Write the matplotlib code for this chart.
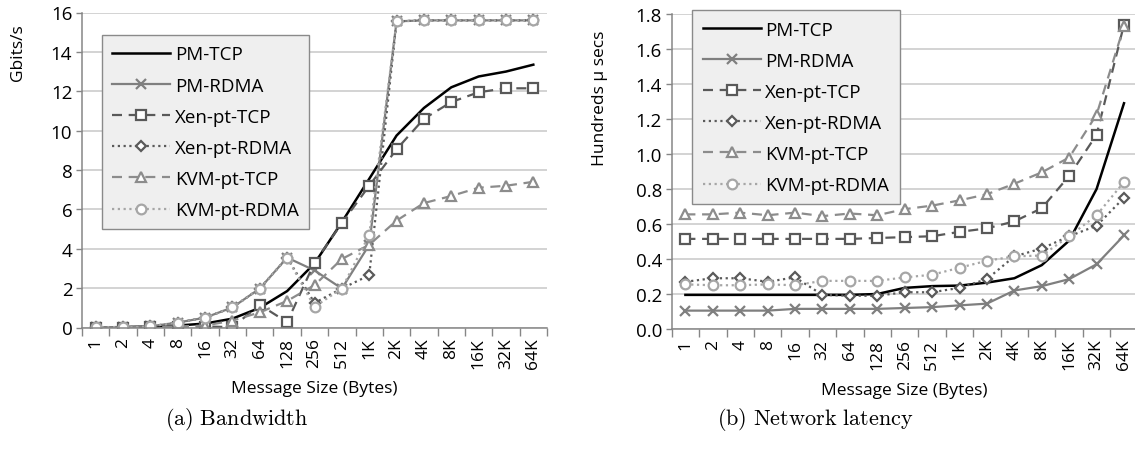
import matplotlib
matplotlib.use("Agg")
import matplotlib.pyplot as plt
import numpy as np

# ---------------- data ----------------
sizes = ["1", "2", "4", "8", "16", "32", "64", "128", "256", "512",
         "1K", "2K", "4K", "8K", "16K", "32K", "64K"]
series_names = ["PM-TCP", "PM-RDMA", "Xen-pt-TCP", "Xen-pt-RDMA",
                "KVM-pt-TCP", "KVM-pt-RDMA"]

# (a) Bandwidth, Gbits/s
bw_pm_tcp = [0.0, 0.02, 0.05, 0.1, 0.2, 0.45, 1.0, 1.85, 3.25, 5.35,
             7.55, 9.75, 11.15, 12.2, 12.75, 13.0, 13.35]
bw_pm_rdma = [0.02, 0.02, 0.06, 0.25, 0.5, 1.02, 1.98, 3.55, 2.9, 1.98,
              4.2, 15.55, 15.6, 15.6, 15.6, 15.6, 15.6]
bw_xen_tcp = [0.0, 0.0, 0.05, 0.05, 0.05, 0.02, 1.15, 0.27, 3.3, 5.3,
              7.2, 9.05, 10.6, 11.45, 11.95, 12.15, 12.15]
bw_xen_rdma = [0.02, 0.02, 0.06, 0.25, 0.5, 1.02, 1.98, 3.55, 1.25, 1.98,
               2.65, 15.55, 15.6, 15.6, 15.6, 15.6, 15.6]
bw_kvm_tcp = [0.0, 0.0, 0.03, 0.05, 0.1, 0.35, 0.77, 1.35, 2.15, 3.48,
              4.2, 5.43, 6.32, 6.68, 7.1, 7.2, 7.4]
bw_kvm_rdma = [0.02, 0.02, 0.06, 0.25, 0.5, 1.02, 1.98, 3.55, 1.05, 1.98,
               4.7, 15.55, 15.6, 15.6, 15.6, 15.6, 15.6]

# (b) Network latency, hundreds of microseconds
lat_pm_tcp = [0.195, 0.195, 0.195, 0.195, 0.195, 0.195, 0.195, 0.2, 0.235,
              0.245, 0.248, 0.265, 0.29, 0.365, 0.505, 0.8, 1.29]
lat_pm_rdma = [0.105, 0.105, 0.105, 0.105, 0.115, 0.115, 0.115, 0.115, 0.12,
               0.125, 0.135, 0.145, 0.22, 0.245, 0.285, 0.37, 0.535]
lat_xen_tcp = [0.515, 0.515, 0.515, 0.515, 0.515, 0.515, 0.515, 0.52, 0.525,
               0.53, 0.555, 0.575, 0.615, 0.69, 0.875, 1.11, 1.74]
lat_xen_rdma = [0.27, 0.29, 0.29, 0.27, 0.295, 0.195, 0.19, 0.19, 0.21,
                0.21, 0.235, 0.285, 0.415, 0.46, 0.53, 0.59, 0.75]
lat_kvm_tcp = [0.655, 0.655, 0.665, 0.65, 0.665, 0.645, 0.66, 0.65, 0.685,
               0.705, 0.735, 0.77, 0.83, 0.895, 0.98, 1.225, 1.73]
lat_kvm_rdma = [0.255, 0.25, 0.25, 0.255, 0.25, 0.275, 0.275, 0.275, 0.295,
                0.31, 0.35, 0.39, 0.415, 0.42, 0.53, 0.65, 0.84]

bw_yticks = [0, 2, 4, 6, 8, 10, 12, 14, 16]
lat_yticks = [0.0, 0.2, 0.4, 0.6, 0.8, 1.0, 1.2, 1.4, 1.6, 1.8]

# ---------------- styles ----------------
FONT = ["Open Sans", "DejaVu Sans"]
plt.rcParams["font.family"] = FONT
plt.rcParams["mathtext.fontset"] = "cm"

DASH = (0, (4.5, 3))
DOT = (0, (1, 1.6))
styles = [
    dict(color="#000000", lw=1.8, ls="-", marker=None),
    dict(color="#7f7f7f", lw=1.6, ls="-", marker="x", ms=7, mew=1.6),
    dict(color="#595959", lw=1.6, ls=DASH, marker="s", ms=6.5, mew=1.6, mfc="white"),
    dict(color="#5a5a5a", lw=1.6, ls=DOT, marker="D", ms=5.5, mew=1.6, mfc="white"),
    dict(color="#8c8c8c", lw=1.6, ls=DASH, marker="^", ms=7.5, mew=1.6, mfc="white"),
    dict(color="#a6a6a6", lw=1.6, ls=DOT, marker="o", ms=7, mew=1.6, mfc="white"),
]

W, H = 1135, 452
fig = plt.figure(figsize=(W / 100, H / 100), dpi=100)


def make_axes(rect, data, yticks, ylim, fmt, ylabel, ylabel_pos, legend_bbox):
    ax = fig.add_axes(rect)
    x = np.arange(len(sizes))
    for name, vals, st in zip(series_names, data, styles):
        kw = dict(color=st["color"], lw=st["lw"], ls=st["ls"], label=name)
        if st["marker"]:
            kw.update(marker=st["marker"], ms=st["ms"], mew=st["mew"],
                      mec=st["color"], mfc=st.get("mfc", st["color"]))
        ax.plot(x, vals, **kw)
    ax.set_xlim(-0.5, len(sizes) - 0.5)
    ax.set_ylim(*ylim)
    ax.set_yticks(yticks)
    ax.set_yticklabels([fmt.format(v) for v in yticks], fontsize=13.5)
    ax.set_xticks(x)
    ax.set_xticklabels(sizes, rotation=90, fontsize=12.5)
    ax.set_xticks(np.arange(-0.5, len(sizes)), minor=True)
    ax.tick_params(axis="x", which="major", length=0, pad=7)
    ax.tick_params(axis="x", which="minor", length=6, width=1, color="#868686",
                   direction="out")
    ax.tick_params(axis="y", which="major", length=4, width=1, color="#868686",
                   direction="out", pad=3)
    ax.grid(axis="y", color="#c8c8c8", lw=1.1)
    ax.set_axisbelow(True)
    for s in ["top", "right"]:
        ax.spines[s].set_visible(False)
    for s in ["left", "bottom"]:
        ax.spines[s].set_color("#868686")
        ax.spines[s].set_linewidth(1.1)
    ax.set_xlabel("Message Size (Bytes)", fontsize=12.5, labelpad=9)
    ax.set_ylabel(ylabel, fontsize=12.5)
    ax.yaxis.set_label_coords(*ylabel_pos)
    leg = ax.legend(loc="upper left", bbox_to_anchor=legend_bbox,
                    fontsize=13.5, frameon=True, fancybox=False,
                    handlelength=3.1, handletextpad=0.25, labelspacing=0.7,
                    borderpad=0.55, borderaxespad=0.0)
    leg.get_frame().set_facecolor("#efefef")
    leg.get_frame().set_edgecolor("#8a8a8a")
    leg.get_frame().set_linewidth(1.0)
    leg.get_frame().set_alpha(1.0)
    return ax


# left panel (pixel box: x 82..547, y 13.5..328.5)
rect_a = [82 / W, (H - 328.5) / H, 465 / W, 315 / H]
ax_a = make_axes(rect_a,
                 [bw_pm_tcp, bw_pm_rdma, bw_xen_tcp, bw_xen_rdma, bw_kvm_tcp, bw_kvm_rdma],
                 bw_yticks, (0, 16), "{:d}", "Gbits/s", (-0.12, 0.875),
                 (0.043, 0.928))

# right panel (pixel box: x 671.7..1137.7, y 15..330)
rect_b = [671.7 / W, (H - 330) / H, 466 / W, 315 / H]
ax_b = make_axes(rect_b,
                 [lat_pm_tcp, lat_pm_rdma, lat_xen_tcp, lat_xen_rdma, lat_kvm_tcp, lat_kvm_rdma],
                 lat_yticks, (0, 1.8), "{:.1f}", "Hundreds \u03bc secs", (-0.137, 0.737),
                 (0.044, 1.012))

fig.text(237 / W, 1 - 420 / H, r"$\mathrm{(a)\ Bandwidth}$", ha="center",
         va="center", fontsize=16)
fig.text(815 / W, 1 - 420 / H, r"$\mathrm{(b)\ Network\ latency}$", ha="center",
         va="center", fontsize=16)

fig.savefig("out.png", dpi=100)
